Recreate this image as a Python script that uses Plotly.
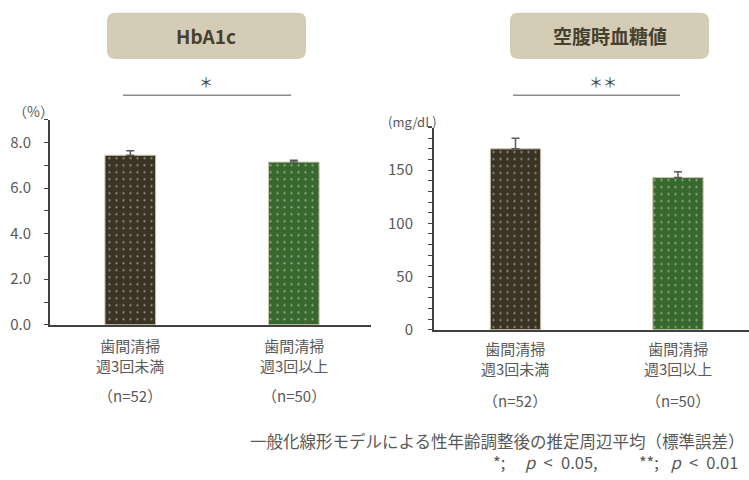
import plotly.graph_objects as go

# ---- data ----
categories = ["歯間清掃<br>週3回未満", "歯間清掃<br>週3回以上"]
n_labels = ["（n=52）", "（n=50）"]
hba1c_mean = [7.44, 7.14]
hba1c_se = [0.20, 0.08]
fpg_mean = [170, 143]
fpg_se = [10, 5.5]
bar_colors = ["#3b3324", "#37692f"]
panel_titles = ["HbA1c", "空腹時血糖値"]
sig_marks = ["＊", "＊＊"]
units = ["（%）", "(mg/dL)"]
footnote1 = "一般化線形モデルによる性年齢調整後の推定周辺平均（標準誤差）"
footnote2 = ("*;\u2003\u2009<i>p</i>\u2002&lt;\u20020.05,\u2003\u2003\u2002"
             "**;\u2002\u2009<i>p</i>\u2002&lt;\u20020.01")

W, H = 749, 480
FONT = "Noto Sans CJK JP"
GRAY = "#595959"

def px(x):
    return x / W

def py(y):
    return 1 - y / H

xs = [0, 1]
fig = go.Figure()

for i, (vals, se, xa, ya) in enumerate([(hba1c_mean, hba1c_se, "x", "y"),
                                          (fpg_mean, fpg_se, "x2", "y2")]):
    fig.add_trace(go.Bar(
        x=xs, y=vals, xaxis=xa, yaxis=ya, width=0.31,
        marker=dict(color=bar_colors,
                    line=dict(color="#cfc6ae", width=1),
                    pattern=dict(shape=".", fgcolor="#ddd6c4", bgcolor=bar_colors,
                                 size=7, solidity=0.08)),
        error_y=dict(type="data", array=se, arrayminus=[0, 0], symmetric=False,
                     color="#5a5a5a", thickness=1.5, width=4),
        showlegend=False, hoverinfo="skip",
    ))

axis_line = dict(showline=True, linecolor="#404040", linewidth=2)
fig.update_layout(
    width=W, height=H, margin=dict(l=0, r=0, t=0, b=0), autosize=False,
    paper_bgcolor="white", plot_bgcolor="white",
    font=dict(family=FONT, color=GRAY, size=15),
    xaxis=dict(domain=[px(50), px(371)], range=[-0.491, 1.472], showticklabels=False,
               ticks="", showgrid=False, zeroline=False, **axis_line, anchor="y"),
    yaxis=dict(domain=[py(331), py(122)], range=[0, 9], tickvals=[0, 2, 4, 6, 8],
               ticktext=["0.0", "2.0", "4.0", "6.0", "8.0"], ticks="outside", ticklen=4,
               tickcolor="#404040", minor=dict(dtick=1, ticks="outside", ticklen=4, tickcolor="#404040"),
               ticklabelstandoff=10, showgrid=False, zeroline=False, **axis_line, anchor="x",
               tickfont=dict(size=15, color=GRAY)),
    xaxis2=dict(domain=[px(434), 1.0], range=[-0.5015, 1.437], showticklabels=False,
                ticks="", showgrid=False, zeroline=False, **axis_line, anchor="y2"),
    yaxis2=dict(domain=[py(336), py(130)], range=[0, 190], tickvals=[0, 50, 100, 150],
                ticks="outside", ticklen=4, tickcolor="#404040",
                minor=dict(dtick=10, ticks="outside", ticklen=4, tickcolor="#404040"),
                ticklabelstandoff=12, showgrid=False, zeroline=False, **axis_line, anchor="x2",
                tickfont=dict(size=15, color=GRAY)),
)

def rounded_rect(x0, y0, x1, y1, r):
    X = lambda v: px(v)
    Y = lambda v: py(v)
    return (f"M {X(x0+r)} {Y(y0)} L {X(x1-r)} {Y(y0)} "
            f"Q {X(x1)} {Y(y0)} {X(x1)} {Y(y0+r)} L {X(x1)} {Y(y1-r)} "
            f"Q {X(x1)} {Y(y1)} {X(x1-r)} {Y(y1)} L {X(x0+r)} {Y(y1)} "
            f"Q {X(x0)} {Y(y1)} {X(x0)} {Y(y1-r)} L {X(x0)} {Y(y0+r)} "
            f"Q {X(x0)} {Y(y0)} {X(x0+r)} {Y(y0)} Z")

def note(x, y, text, size, color=GRAY, xref="paper", xanchor="center", **kw):
    fig.add_annotation(x=x, y=y, xref=xref, yref="paper", text=text, showarrow=False,
                       xanchor=xanchor, yanchor="middle", font=dict(size=size, color=color, family=FONT), **kw)

boxes = [(107, 13, 306, 60), (510, 13, 709, 60)]
sig_lines = [(123, 291), (513, 680)]
sig_x = [206, 603]
for k in range(2):
    bx0, by0, bx1, by1 = boxes[k]
    fig.add_shape(type="path", path=rounded_rect(bx0, by0, bx1, by1, 8), xref="paper", yref="paper",
                  fillcolor="#d5ccb6", line=dict(width=0), layer="below")
    note(px((bx0 + bx1) / 2), py((by0 + by1) / 2), f"<b>{panel_titles[k]}</b>", 19, "#45402f")
    l0, l1 = sig_lines[k]
    fig.add_shape(type="line", x0=px(l0), x1=px(l1), y0=py(97), y1=py(97), xref="paper", yref="paper",
                  line=dict(color="#8a8a8a", width=1.5))
    note(px(sig_x[k]), py(83), sig_marks[k], 14, "#404040")

note(px(33), py(113), units[0], 14)
note(px(413), py(124), units[1], 13)

cat_y = [362, 365]
n_y = [403, 408]
for k, xa in enumerate(["x", "x2"]):
    for j in range(2):
        note(xs[j], py(cat_y[k]), categories[j], 15, xref=xa, align="center")
        note(xs[j], py(n_y[k]), n_labels[j], 15, xref=xa)

note(px(747), py(449), footnote1, 16.5, xanchor="right")
note(px(740), py(471), footnote2, 16.5, xanchor="right")

post = """
var d = document.documentElement, b = document.body;
d.style.margin = '0'; b.style.margin = '0';
d.style.overflow = 'hidden'; b.style.overflow = 'hidden';
var g = document.getElementById('{plot_id}');
g.style.position = 'fixed'; g.style.left = '0px'; g.style.top = '0px';
"""

fig.write_html("out.html", config={"displayModeBar": False}, post_script=post)
